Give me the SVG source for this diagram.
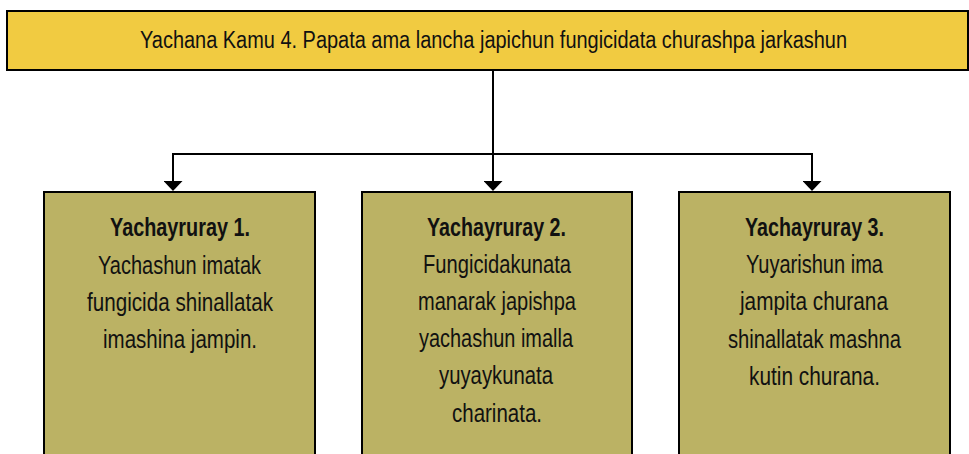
<svg xmlns="http://www.w3.org/2000/svg" width="969" height="454" viewBox="0 0 969 454">
  <style>
    .banner { fill: #F1CB41; stroke: #000; stroke-width: 2; }
    .box { fill: #BBB264; stroke: #000; stroke-width: 2; }
    .conn { fill: none; stroke: #000; stroke-width: 2; }
    text { font-family: "Liberation Sans Narrow", "Liberation Sans", Arial, sans-serif; font-size: 26px; fill: #111; text-anchor: middle; }
    .title { font-size: 23px; }
    .bold { font-weight: bold; }
  </style>
  <defs>
    <marker id="arrow" markerUnits="userSpaceOnUse" viewBox="0 0 10 19" refX="0" refY="9.5" markerWidth="10" markerHeight="19" orient="auto">
      <path d="M0,0 L10,9.5 L0,19 z" fill="#000"/>
    </marker>
  </defs>
  <rect width="969" height="454" fill="#fff"/>

  <g id="banner">
    <rect class="banner" x="7" y="11" width="961" height="59"/>
    <text class="title" x="493.5" y="48" textLength="707" lengthAdjust="spacingAndGlyphs">Yachana Kamu 4. Papata ama lancha japichun fungicidata churashpa jarkashun</text>
  </g>

  <g id="connectors">
    <path class="conn" d="M493,70 V181" marker-end="url(#arrow)"/>
    <path class="conn" d="M173,181 V154 H812 V181" marker-end="url(#arrow)"/>
    <path class="conn" d="M173,155 V181" marker-end="url(#arrow)"/>
  </g>

  <g id="node1">
    <rect class="box" x="44" y="192" width="271" height="280"/>
    <text class="bold" x="180" y="236" textLength="140" lengthAdjust="spacingAndGlyphs">Yachayruray 1.</text>
    <text x="179.5" y="274" textLength="163" lengthAdjust="spacingAndGlyphs">Yachashun imatak</text>
    <text x="180" y="311" textLength="186" lengthAdjust="spacingAndGlyphs">fungicida shinallatak</text>
    <text x="180" y="348" textLength="154" lengthAdjust="spacingAndGlyphs">imashina jampin.</text>
  </g>

  <g id="node2">
    <rect class="box" x="362" y="192" width="270" height="280"/>
    <text class="bold" x="496.5" y="236" textLength="139" lengthAdjust="spacingAndGlyphs">Yachayruray 2.</text>
    <text x="497" y="273" textLength="148" lengthAdjust="spacingAndGlyphs">Fungicidakunata</text>
    <text x="497" y="310" textLength="158" lengthAdjust="spacingAndGlyphs">manarak japishpa</text>
    <text x="496" y="347" textLength="154" lengthAdjust="spacingAndGlyphs">yachashun imalla</text>
    <text x="496" y="384" textLength="114" lengthAdjust="spacingAndGlyphs">yuyaykunata</text>
    <text x="497" y="422" textLength="90" lengthAdjust="spacingAndGlyphs">charinata.</text>
  </g>

  <g id="node3">
    <rect class="box" x="679" y="192" width="271" height="280"/>
    <text class="bold" x="814.5" y="236" textLength="139" lengthAdjust="spacingAndGlyphs">Yachayruray 3.</text>
    <text x="814.5" y="273" textLength="137" lengthAdjust="spacingAndGlyphs">Yuyarishun ima</text>
    <text x="814" y="310" textLength="148" lengthAdjust="spacingAndGlyphs">jampita churana</text>
    <text x="814.5" y="348" textLength="173" lengthAdjust="spacingAndGlyphs">shinallatak mashna</text>
    <text x="814.5" y="385" textLength="131" lengthAdjust="spacingAndGlyphs">kutin churana.</text>
  </g>
</svg>
